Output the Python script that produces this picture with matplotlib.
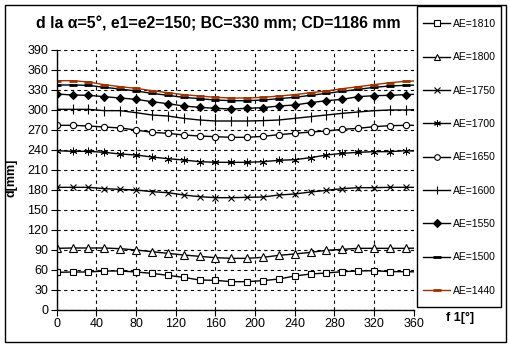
import matplotlib
matplotlib.use("Agg")
import matplotlib.pyplot as plt
from matplotlib.patches import Rectangle

plt.rcParams['font.family'] = ['Liberation Sans', 'DejaVu Sans']

phi = [0, 16, 32, 48, 64, 80, 96, 112, 128, 144, 160, 176, 192, 208, 224,
       240, 256, 272, 288, 304, 320, 336, 352, 368]

ae1810 = [56.5, 57, 57, 58.5, 58.5, 57, 55, 52, 49, 45, 44.5, 42.5, 42.5, 44,
          46.5, 51, 54, 55.5, 57.5, 58.5, 59, 57.5, 57.5, 57]
ae1800 = [92.5, 93, 93, 93, 92, 90, 87.5, 85, 82.5, 80.5, 78.5, 77.5, 77.5, 79,
          82, 84, 86.5, 89.5, 91, 92.5, 92.5, 92.5, 92.5, 93]
ae1750 = [184, 184, 184, 182, 181, 180, 177.5, 176, 172.5, 170, 168.5, 168.5,
          169, 169.5, 172.5, 174, 177, 179.5, 182, 183.5, 183.5, 184, 184, 184]
ae1700 = [239, 238, 238, 236.5, 234, 232.5, 229.5, 227, 225, 222.5, 221.5,
          221.5, 221.5, 222.5, 224.5, 225.5, 228.5, 232.5, 235, 236.5, 237.5,
          237.5, 239, 238]
ae1650 = [277, 277, 276, 274.5, 273, 270, 266.5, 265, 262.5, 261, 260, 259,
          259, 260.5, 263, 265, 267, 268.5, 271, 272.5, 275, 276.5, 277, 277]
ae1600 = [301, 301, 301, 299, 299, 296, 292.5, 291, 287.5, 285, 283.5, 283.5,
          283.5, 284, 285, 287.5, 290, 292.5, 295, 297, 299, 300, 300, 301]
ae1550 = [324, 322.5, 322, 320, 318, 316, 312.5, 309.5, 306, 304, 302.5, 301.5,
          302.5, 303.5, 306, 307.5, 311, 314, 316, 320, 321.5, 322, 323, 324]
ae1500 = [337.5, 337.5, 337, 334, 331.5, 328.5, 325, 322, 319, 317, 315, 314,
          314, 315, 317, 319, 322, 325, 328, 331, 334, 336, 337, 337.5]
ae1440 = [344, 344, 342, 338, 335, 332.5, 329, 326, 323, 321, 319, 318, 318,
          319, 321, 323, 326, 328.5, 332, 335, 338, 341, 343, 344]

labels = ['AE=1810', 'AE=1800', 'AE=1750', 'AE=1700', 'AE=1650',
          'AE=1600', 'AE=1550', 'AE=1500', 'AE=1440']
series = [ae1810, ae1800, ae1750, ae1700, ae1650, ae1600, ae1550, ae1500, ae1440]

title = 'd la α=5°, e1=e2=150; BC=330 mm; CD=1186 mm'
xticks = list(range(0, 361, 40))
yticks = list(range(0, 391, 30))

W, H = 509, 348
fig = plt.figure(figsize=(W / 100, H / 100), dpi=100)
fig.patch.set_facecolor('white')

# outer frame
fig.patches.append(Rectangle((5 / W, (H - 342) / H), 501 / W, 337 / H,
                             transform=fig.transFigure, fill=False,
                             edgecolor='black', linewidth=1.0))
# legend frame
fig.patches.append(Rectangle((417 / W, (H - 307) / H), 84 / W, 301 / H,
                             transform=fig.transFigure, fill=False,
                             edgecolor='black', linewidth=1.0))

ax = fig.add_axes([56.7 / W, (H - 310) / H, 357 / W, 260 / H])

styles = [
    dict(marker='s', mfc='white', mec='black', ms=5, mew=0.8, color='black'),
    dict(marker='^', mfc='white', mec='black', ms=5.5, mew=0.8, color='black'),
    dict(marker='x', mfc='none', mec='black', ms=4.5, mew=0.8, color='black'),
    dict(marker=(6, 2, 0), mfc='none', mec='black', ms=5.5, mew=0.7, color='black'),
    dict(marker='o', mfc='white', mec='black', ms=4.5, mew=0.8, color='black'),
    dict(marker='|', mfc='none', mec='black', ms=7, mew=0.8, color='black'),
    dict(marker='D', mfc='black', mec='black', ms=4.5, mew=0.8, color='black'),
    dict(marker='_', mfc='black', mec='black', ms=6, mew=2.0, color='black'),
    dict(marker='_', mfc='#993300', mec='#993300', ms=6, mew=2.0, color='#993300'),
]

handles = []
for vals, lab, st in zip(series, labels, styles):
    h, = ax.plot(phi, vals, linewidth=1.0, label=lab, **st)
    handles.append(h)

ax.set_xlim(0, 360)
ax.set_ylim(0, 390)
ax.set_xticks(xticks)
ax.set_yticks(yticks)
ax.tick_params(axis='both', direction='out', length=4, width=0.8,
               labelsize=9, colors='black', pad=2)
ax.grid(True, color='black', linestyle=(0, (3, 3)), linewidth=0.8)
ax.set_axisbelow(True)
for s in ['top', 'right']:
    ax.spines[s].set_visible(False)
for s in ['left', 'bottom']:
    ax.spines[s].set_linewidth(1.0)
ax.patch.set_alpha(0)

fig.text(218 / W, (H - 24) / H, title, ha='center', va='center',
         fontsize=11.4, fontweight='bold')
fig.text(11 / W, (H - 178) / H, 'd[mm]', ha='center', va='center',
         rotation=90, fontsize=9, fontweight='bold')
fig.text(460 / W, (H - 318) / H, 'f 1[°]', ha='center', va='center',
         fontsize=9, fontweight='bold')

leg = fig.legend(handles=handles, labels=labels, loc='upper left',
                 bbox_to_anchor=(423 / W, (H - 19) / H), frameon=False,
                 fontsize=7.5, labelspacing=2.24, handlelength=2.6,
                 handletextpad=0.3, borderpad=0, borderaxespad=0,
                 markerscale=0.9)

fig.savefig('out.png', dpi=100)
